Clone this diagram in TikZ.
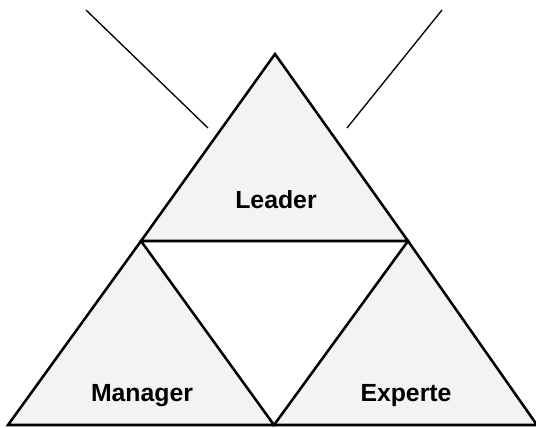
\documentclass[tikz,border=0pt]{standalone}
\usepackage{fontspec}
\setmainfont{Liberation Sans}
\definecolor{rolefill}{RGB}{243,243,243}
\usetikzlibrary{positioning}

\begin{document}
\begin{tikzpicture}[x=0.75pt, y=-0.75pt,
  roletri/.style={draw=black, fill=rolefill, line width=1.9pt, line join=miter},
  rolelabel/.style={font=\fontsize{18.6}{22}\selectfont\bfseries, text=black, anchor=base},
  freeline/.style={draw=black, line width=1pt}]
  \useasboundingbox (0,0) rectangle (536,428);

  % corners of the big triangle
  \coordinate (apex) at (275,54);
  \coordinate (midL) at (141,241);
  \coordinate (midR) at (408,241);
  \coordinate (botL) at (8,425);
  \coordinate (botM) at (274,425);
  \coordinate (botR) at (537,425);

  % three filled triangles, the middle one stays white
  \filldraw[roletri] (apex) -- (midR) -- (midL) -- cycle;
  \filldraw[roletri] (midL) -- (botM) -- (botL) -- cycle;
  \filldraw[roletri] (midR) -- (botR) -- (botM) -- cycle;

  % labels
  \node[rolelabel] (leader) at (276,209) {Leader};
  \node[rolelabel] (manager) at (142,401) {Manager};
  \node[rolelabel] (experte) at (406,401) {Experte};

  % two lines above the top
  \coordinate (lineLa) at (86,10);
  \coordinate (lineLb) at (208,128);
  \coordinate (lineRa) at (442,10);
  \coordinate (lineRb) at (347,128);
  \draw[freeline] (lineLa) -- (lineLb);
  \draw[freeline] (lineRa) -- (lineRb);
\end{tikzpicture}
\end{document}
